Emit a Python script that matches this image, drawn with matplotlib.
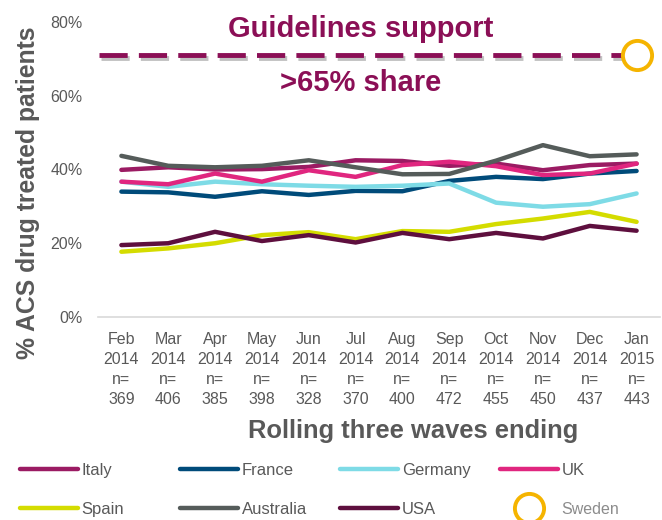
import matplotlib.pyplot as plt
import matplotlib.patheffects as pe
from matplotlib.lines import Line2D
from matplotlib.legend_handler import HandlerLine2D

plt.rcParams['font.family'] = ['Liberation Sans', 'DejaVu Sans']

# data
months = ['Feb\n2014', 'Mar\n2014', 'Apr\n2014', 'May\n2014', 'Jun\n2014', 'Jul\n2014',
          'Aug\n2014', 'Sep\n2014', 'Oct\n2014', 'Nov\n2014', 'Dec\n2014', 'Jan\n2015']
n_sizes = [369, 406, 385, 398, 328, 370, 400, 472, 455, 450, 437, 443]

italy = [39.9, 40.6, 40.0, 40.1, 40.7, 42.5, 42.3, 41.0, 41.6, 39.8, 41.2, 41.6]
france = [34.0, 33.8, 32.6, 34.1, 33.1, 34.2, 34.1, 36.9, 38.0, 37.4, 38.9, 39.6]
germany = [36.7, 35.3, 36.7, 36.0, 35.6, 35.3, 35.6, 36.2, 31.0, 29.9, 30.6, 33.5]
uk = [36.7, 36.0, 38.9, 36.7, 39.8, 38.0, 41.2, 42.1, 40.9, 38.5, 38.9, 41.6]
spain = [17.7, 18.6, 20.0, 22.2, 23.0, 21.1, 23.3, 23.1, 25.2, 26.7, 28.5, 25.8]
australia = [43.7, 41.0, 40.6, 41.0, 42.5, 40.6, 38.7, 38.8, 42.4, 46.6, 43.6, 44.1]
usa = [19.5, 20.0, 23.1, 20.6, 22.2, 20.2, 22.8, 21.1, 22.8, 21.3, 24.7, 23.4]
guideline = 71
sweden = 71

series = [
    ('Italy', italy, '#9B1B63'),
    ('France', france, '#004B7A'),
    ('Germany', germany, '#7EDBE6'),
    ('UK', uk, '#E0267F'),
    ('Spain', spain, '#D4DC00'),
    ('Australia', australia, '#555C5A'),
    ('USA', usa, '#5E0F3E'),
]

grey = '#595959'
purple = '#8B0F56'
gold = '#F5B400'

fig = plt.figure(figsize=(6.62, 5.2), dpi=100)
ax = fig.add_axes([0.148, 0.3904, 0.849, 0.5673])

x = list(range(len(months)))
handles = {}
for name, vals, col in series:
    h, = ax.plot(x, vals, color=col, lw=3.2, solid_capstyle='round', solid_joinstyle='round', label=name)
    handles[name] = h

# guideline dashed line with a soft shadow
ax.plot([-0.47, 10.8], [guideline, guideline], color=purple, lw=3.5, dashes=(5.8, 2.3),
        path_effects=[pe.SimpleLineShadow(offset=(1, -2), shadow_color='#999999', alpha=0.6), pe.Normal()])
ax.plot([11], [sweden], marker='o', ms=21, mfc='white', mec=gold, mew=2.8, ls='none')

ax.text(5.1, 78.0, 'Guidelines support', ha='center', va='center', fontsize=21,
        fontweight='bold', color=purple)
ax.text(5.1, 63.5, '>65% share', ha='center', va='center', fontsize=21,
        fontweight='bold', color=purple)

ax.set_xlim(-0.5, 11.5)
ax.set_ylim(0, 80)
ax.set_yticks([0, 20, 40, 60, 80])
ax.set_yticklabels(['0%', '20%', '40%', '60%', '80%'])
ax.set_xticks(x)
ax.set_xticklabels([f'{m}\nn=\n{n}' for m, n in zip(months, n_sizes)], linespacing=1.4)
ax.tick_params(axis='x', length=0, colors=grey, labelsize=11.5, pad=11)
ax.tick_params(axis='y', length=0, colors=grey, labelsize=11.5, pad=11)
for s in ['top', 'right', 'left']:
    ax.spines[s].set_visible(False)
ax.spines['bottom'].set_color('#D9D9D9')
ax.spines['bottom'].set_linewidth(1.2)

ax.set_ylabel('% ACS drug treated patients', fontsize=17.8, fontweight='bold', color=grey)
ax.yaxis.set_label_coords(-0.103, 0.42)
ax.set_xlabel('Rolling three waves ending', fontsize=18.4, fontweight='bold', color=grey)
ax.xaxis.set_label_coords(0.56, -0.345)


class LeftMarker(HandlerLine2D):
    # circle sits left of centre in the original legend
    def get_xdata(self, legend, xdescent, ydescent, width, height, fontsize):
        xdata, _ = super().get_xdata(legend, xdescent, ydescent, width, height, fontsize)
        return xdata, [0.35 * width - xdescent]


sweden_h = Line2D([], [], marker='o', ms=21, mfc='white', mec=gold, mew=2.8, ls='none')
columns = [['Italy', 'Spain'], ['France', 'Australia'], ['Germany', 'USA'], ['UK', 'Sweden']]
col_x = [20, 180, 340, 500]
for names, px in zip(columns, col_x):
    hs = [handles.get(n, sweden_h) for n in names]
    leg = fig.legend(hs, names, loc='center left', bbox_to_anchor=(px / 662, 1 - 490 / 520),
                     frameon=False, fontsize=12, handlelength=3.45, handletextpad=0.25,
                     labelspacing=1.45, borderpad=0, borderaxespad=0, numpoints=1,
                     handler_map={sweden_h: LeftMarker()})
    for t in leg.get_texts():
        t.set_color(grey)
        if t.get_text() == 'Sweden':
            t.set_color('#8C8C8C')
            t.set_fontsize(11.5)

fig.savefig('out.png', dpi=100)
